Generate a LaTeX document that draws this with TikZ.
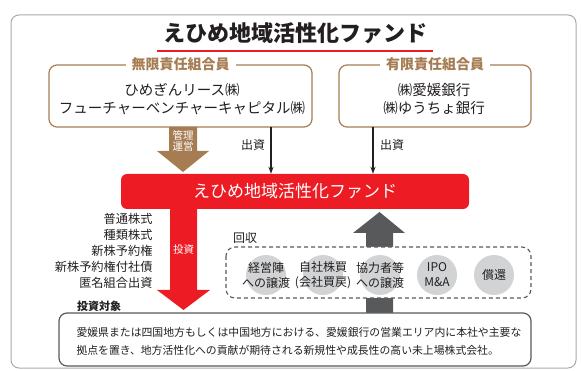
\documentclass[tikz,border=0pt]{standalone}
\usepackage{fontspec}
\setmainfont{Noto Sans CJK JP}
\usepackage{xcolor}
\usepackage{tikz}
\usetikzlibrary{arrows.meta,positioning,shapes,calc}

\definecolor{fundred}{HTML}{ED1C24}
\definecolor{brownish}{HTML}{A67C52}
\definecolor{darkgray}{HTML}{58595B}
\definecolor{circgray}{HTML}{D1D3D4}
\definecolor{framegray}{HTML}{A7A9AC}
\definecolor{ink}{HTML}{231F20}

\tikzset{
  partnerbox/.style={draw=brownish, line width=1.2pt, rounded corners=8pt},
  partnerlabel/.style={fill=white, text=brownish, inner xsep=6pt, inner ysep=1pt, font=\fontsize{14}{16}\selectfont\bfseries},
  exitcircle/.style={circle, fill=circgray, minimum size=40pt, inner sep=0pt},
  exittext/.style={align=center, text=ink, font=\fontsize{12}{15}\selectfont},
}

\begin{document}
\begin{tikzpicture}[x=1pt, y=-1pt]
\useasboundingbox (0,0) rectangle (581,371);

% outer frame
\draw[framegray, line width=1pt, rounded corners=8pt] (11,15) rectangle (576,368);

% title
\node[text=ink, font=\fontsize{22}{26}\selectfont\bfseries] (title) at (295,33) {えひめ地域活性化ファンド};
\draw[fundred, line width=1.6pt] (157,51) -- (433,51);

% partners
\node[partnerbox, minimum width=263pt, minimum height=62pt] (gp) at (180.5,96) {};
\node[partnerlabel] (gplabel) at (gp.north) {無限責任組合員};
\node[text=ink, align=center, font=\fontsize{14.5}{18}\selectfont] (gptext) at (182,99) {ひめぎんリース㈱\\フューチャーベンチャーキャピタル㈱};

\node[partnerbox, minimum width=192pt, minimum height=62pt] (lp) at (435,96) {};
\node[partnerlabel] (lplabel) at (lp.north) {有限責任組合員};
\node[text=ink, align=center, font=\fontsize{14.5}{18}\selectfont] (lptext) at (434,99) {㈱愛媛銀行\\㈱ゆうちょ銀行};

% management arrow
\fill[brownish] (169,127) -- (197,127) -- (197,151) -- (209,151) -- (183,172) -- (157,151) -- (169,151) -- cycle;
\node[text=white, align=center, font=\fontsize{10.5}{11.5}\selectfont] (mgmt) at (183,141) {管理\\運営};

% investment arrow
\fill[fundred] (170,205) -- (197,205) -- (197,290) -- (210,290) -- (183.5,310) -- (157,290) -- (170,290) -- cycle;
\node[text=white, font=\fontsize{10.5}{12}\selectfont] (invest) at (183.5,250) {投資};

% fund
\node[fill=fundred, rounded corners=6pt, minimum width=348pt, minimum height=35pt, text=white,
  font=\fontsize{17}{20}\selectfont] (fund) at (295,191.5) {えひめ地域活性化ファンド};

% capital contributions
\coordinate (gpout) at (271,127);
\coordinate (lpout) at (373,127);
\draw[ink, line width=1.2pt, -{Stealth[length=7pt, width=5pt]}] (gpout) -- (gpout |- fund.north);
\draw[ink, line width=1.2pt, -{Stealth[length=7pt, width=5pt]}] (lpout) -- (lpout |- fund.north);
\node[text=ink, font=\fontsize{12}{14}\selectfont] (capa) at (253,145) {出資};
\node[text=ink, font=\fontsize{12}{14}\selectfont] (capb) at (392,145) {出資};

% instruments
\node[anchor=east, align=right, text=ink, font=\fontsize{12.2}{16}\selectfont] (instr) at (156,251)
  {普通株式\\種類株式\\新株予約権\\新株予約権付社債\\匿名組合出資};

% recovery arrow
\fill[darkgray] (366,313) -- (393,313) -- (393,233) -- (405,233) -- (379.5,212) -- (353,233) -- (366,233) -- cycle;
\node[text=ink, font=\fontsize{12}{14}\selectfont] (recov) at (245,238) {回収};

% exits
\draw[darkgray, line width=1.1pt, dash pattern=on 4pt off 3pt, rounded corners=9pt, fill=white] (226,247) rectangle (531,298);
\foreach \cx/\nm in {266/a,323/b,380/c,437/d,494/e}
  \node[exitcircle] (c\nm) at (\cx,275) {};
\node[exittext] (ta) at (ca) {経営陣\\への譲渡};
\node[exittext] (tb) at (cb) {自社株買\\(会社買戻)};
\node[exittext] (tc) at (cc) {協力者等\\への譲渡};
\node[exittext] (td) at (cd) {IPO\\M\&A};
\node[exittext] (te) at (ce) {償還};

% investment target
\node[text=ink, font=\fontsize{11}{13}\selectfont\bfseries] (target) at (99,306) {投資対象};
\draw[darkgray, line width=1.2pt, rounded corners=8pt, fill=white] (59,313) rectangle (531,366);
\node[anchor=west, align=left, text=ink, font=\fontsize{10.85}{18}\selectfont] (targettext) at (73,341.5)
  {愛媛県または四国地方もしくは中国地方における、愛媛銀行の営業エリア内に本社や主要な\\拠点を置き、地方活性化への貢献が期待される新規性や成長性の高い未上場株式会社。};

\end{tikzpicture}
\end{document}
